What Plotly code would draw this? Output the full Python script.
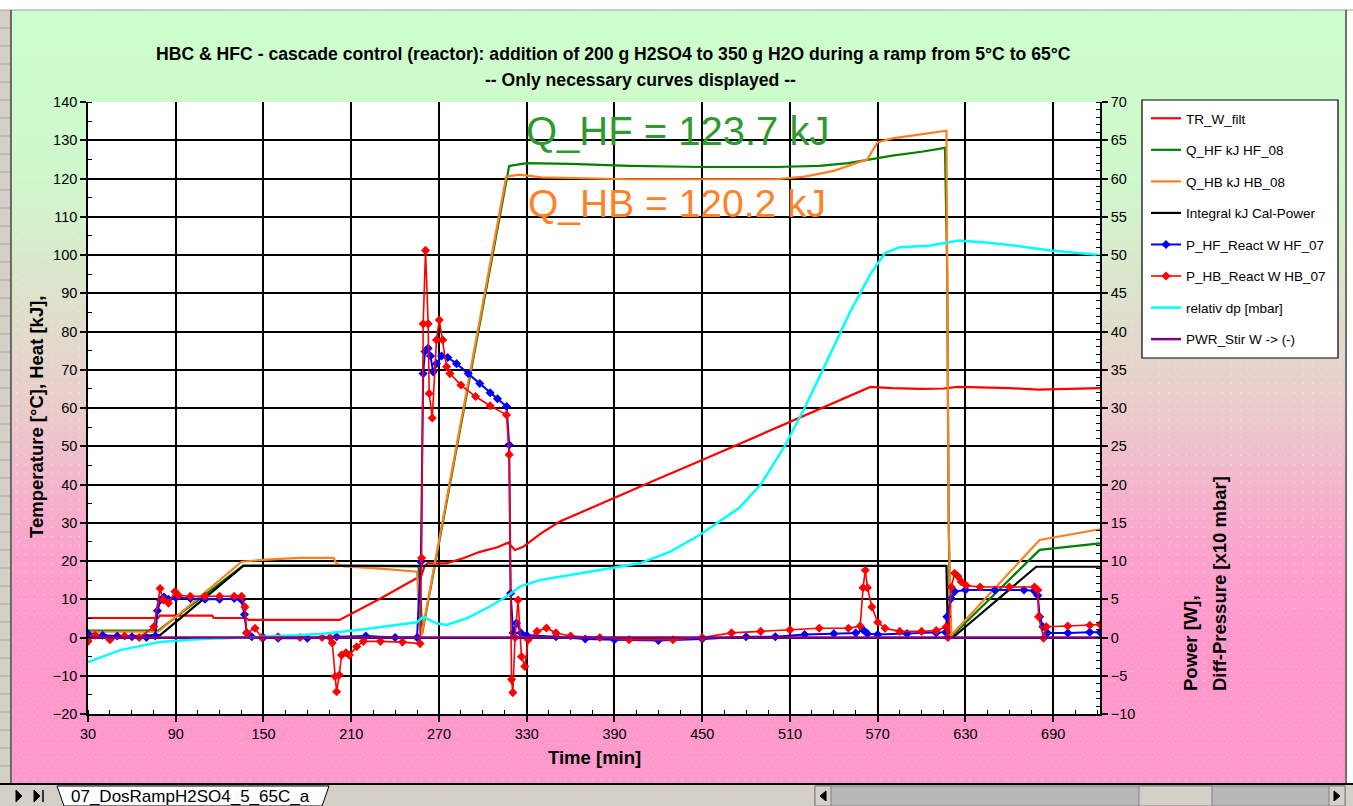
import base64
import plotly.graph_objects as go

# ---------------- data ----------------
# TR_W_filt  [°C]  (left axis)
t_tr = [30, 78, 79, 115, 116, 138, 140, 202, 230, 255, 258, 260, 262, 275, 286.6, 298, 310,
        317.3, 321.9, 327.6, 340, 352.6, 390, 420, 450, 480, 510, 540, 565, 580, 600, 615,
        625, 640, 660, 680, 700, 722]
v_tr = [5.1, 5.1, 5.7, 5.7, 5.1, 5.1, 4.6, 4.6, 10.2, 15.5, 16.2, 18.5, 19.4, 19.4, 20.7, 22.4, 23.6,
        24.8, 22.9, 23.7, 27.3, 30.3, 36.6, 41.5, 46.4, 51.4, 56.5, 61.5, 65.5, 65.2, 65.0, 65.1,
        65.5, 65.4, 65.2, 64.8, 65.0, 65.2]

# Q_HF kJ HF_08  (left axis)
t_qhf = [30, 78, 136, 200, 256, 257.5, 258.5, 318, 330, 360, 400, 450, 500, 530, 550, 565, 580,
         600, 616, 617.5, 618.5, 619.5, 621.4, 680.7, 700, 722]
v_qhf = [1.8, 1.8, 18.8, 18.8, 18.6, 10, 1.0, 123.3, 124, 123.8, 123.3, 123, 123, 123.3, 124, 125, 126,
         127, 128, 96, 32, 1, 0.6, 22.9, 23.7, 24.6]

# Q_HB kJ HB_08  (left axis)
t_qhb = [30, 78, 135, 150, 165, 175, 198, 200, 205, 230, 255, 256.5, 258, 316, 325, 340, 400, 450,
         500, 520, 540, 555, 563, 566, 570, 580, 600, 617, 618.5, 620.3, 680.7, 700, 722]
v_qhb = [1.5, 1.5, 19.8, 20.3, 20.6, 20.8, 20.8, 19.3, 18.6, 18.0, 17.2, 5, 0.5, 120.5, 121, 120.3, 119.8, 119.8,
         119.8, 120.5, 122, 124, 125, 127, 129.5, 130.5, 131.5, 132.5, 30, 0.6, 25.5, 26.8, 28.3]

# Integral kJ Cal-Power  (left axis)
t_int = [30, 79.3, 136.2, 617, 618, 621.4, 678.4, 722]
v_int = [0, 0.6, 18.7, 18.7, 0, 0, 18.5, 18.5]

# P_HF_React W HF_07  (right axis, W)
t_phf = [30, 40, 50, 60, 70, 76, 77.5, 79.5, 82, 85,
         90, 100, 110, 120, 130, 135, 137, 138.5, 142, 150,
         160, 180, 200, 220, 240, 255, 257.6, 259.2, 260.4, 262.6,
         264.2, 266, 268.3, 271.8, 276, 282, 290, 297.9, 305, 310,
         316.2, 318, 319, 320.7, 323, 326, 330, 350, 370, 390,
         420, 450, 480, 500, 520, 540, 555, 560, 563, 570,
         590, 610, 616.5, 617.3, 620.3, 622.6, 630, 650, 670, 677,
         679.5, 680.7, 683, 686, 700, 715, 722]
v_phf = [0.5, 0.3, 0.2, 0.1, 0.0, 0.2, 3.5, 4.9, 5.3, 5.0,
         5.2, 5.1, 5.0, 5.0, 5.1, 4.9, 3.0, 0.6, 0.1, 0.0,
         -0.1, -0.1, 0.1, 0.2, 0.0, 0.0, 9.9, 34.5, 37.4, 37.8,
         36.8, 34.7, 35.8, 36.8, 36.6, 35.8, 34.5, 33.2, 32.0, 31.2,
         30.2, 25.2, 5.8, 0.6, 1.9, 0.6, 0.3, 0.1, -0.2, -0.3,
         -0.4, -0.2, 0.1, 0.1, 0.4, 0.5, 0.6, 1.0, 0.5, 0.4,
         0.5, 0.6, 0.7, 2.7, 5.1, 6.0, 6.2, 6.2, 6.2, 6.1,
         5.5, 2.7, 1.4, 0.6, 0.6, 0.7, 0.7]

# P_HB_React W HB_07  (right axis, W)
t_phb = [30, 35, 45, 55, 65, 75, 79.3, 81.5, 85, 89.5,
         92, 100, 110, 120, 130, 135, 137.3, 138.5, 144.2, 148.7,
         160, 175, 190, 195.4, 197, 198.9, 200, 201.8, 203.4, 206.4,
         208.7, 213.7, 218.3, 230, 245, 257, 258.1, 259.2, 260.8, 262.6,
         263.3, 265.4, 268.3, 270.2, 272.5, 275.2, 277.5, 285, 295, 305,
         316.2, 318, 319.6, 320.5, 322, 324.1, 326.4, 328.7, 331, 337,
         343.5, 350, 360, 380, 400, 430, 450, 470, 490, 510,
         530, 550, 558, 560, 561.5, 563, 566, 570, 575, 585,
         600, 610, 616.8, 618, 620.3, 622.6, 624.8, 627.1, 630.5, 640,
         660, 677.2, 679.5, 680, 683.4, 685.3, 700, 715, 722]
v_phb = [-0.5, 0.3, -0.3, 0.2, 0.0, 1.4, 6.4, 4.9, 4.5, 6.0,
         5.5, 5.4, 5.4, 5.4, 5.4, 5.4, 4.0, 0.6, 1.2, 0.0,
         0.1, 0.0, 0.0, 0.0, -0.7, -5.1, -7.1, -4.9, -2.3, -2.0,
         -2.3, -1.2, -0.5, -0.5, -0.6, -0.8, 10.4, 41.0, 50.6, 41.0,
         31.9, 28.7, 38.9, 41.5, 38.9, 35.4, 34.5, 33.0, 31.5, 30.3,
         29.1, 23.9, -5.5, -7.2, 0.0, 4.9, -2.5, -3.8, -0.3, 0.8,
         1.25, 0.6, 0.2, 0.0, -0.3, -0.3, 0.0, 0.6, 0.8, 1.0,
         1.2, 1.2, 1.5, 6.5, 8.8, 6.5, 4.0, 2.0, 1.2, 0.8,
         0.8, 0.9, 1.4, 0.0, 6.6, 8.4, 8.0, 7.3, 6.8, 6.6,
         6.6, 6.6, 6.2, 2.7, -0.1, 1.4, 1.5, 1.6, 1.7]

# relativ dp [mbar]  (right axis, x10 mbar)
t_dp = [30, 52, 79, 107, 148, 189, 216, 243, 255, 259.2,
        268.3, 275.2, 288.9, 304.8, 316.2, 325.3, 339, 352.6, 390.2, 407.3,
        427.8, 448.3, 475.6, 490, 506.4, 520, 530, 540, 551, 565,
        575, 585, 605, 625.6, 646, 667, 688, 722]
v_dp = [-3.2, -1.65, -0.6, -0.2, 0.05, 0.45, 1.0, 1.65, 2.0, 2.7,
        1.85, 1.65, 2.5, 4.05, 5.35, 6.65, 7.5, 7.95, 9.15, 9.7,
        11.2, 13.4, 17.0, 20.0, 25.0, 30.0, 34.0, 38.0, 42.5, 47.5,
        50.25, 51.0, 51.2, 51.9, 51.6, 51.15, 50.6, 50.0]

# PWR_Stir W -> (-)  (right axis)
t_stir = [30, 722]
v_stir = [0, 0]

x_range = [30, 722]
x_ticks = [30, 90, 150, 210, 270, 330, 390, 450, 510, 570, 630, 690]
y_range = [-20, 140]
y2_range = [-10, 70]

title1 = "HBC & HFC - cascade control (reactor): addition of 200 g H2SO4 to 350 g H2O during a ramp from 5°C to 65°C"
title2 = "-- Only necessary curves displayed --"
label_qhf = "Q_HF = 123.7 kJ"
label_qhb = "Q_HB = 120.2 kJ"
sheet_name = "07_DosRampH2SO4_5_65C_a"

# ---------------- layout helpers ----------------
W, H = 1353, 806
PL, PR, PT, PB = 88, 1100, 102, 714
FONT = "Liberation Sans, Arial, sans-serif"


def px(x):
    return (x - PL) / (PR - PL)


def py(y):
    return (PB - y) / (PB - PT)


def rect(x0, y0, x1, y1, fill, line="rgba(0,0,0,0)", lw=0, layer="below"):
    return dict(type="rect", xref="paper", yref="paper", x0=px(x0), x1=px(x1), y0=py(y0), y1=py(y1),
                fillcolor=fill, line=dict(color=line, width=lw), layer=layer)


def hline(x0, x1, y, color, lw=1, layer="above"):
    return dict(type="line", xref="paper", yref="paper", x0=px(x0), x1=px(x1), y0=py(y), y1=py(y),
                line=dict(color=color, width=lw), layer=layer)


def vline(x, y0, y1, color, lw=1, layer="above"):
    return dict(type="line", xref="paper", yref="paper", x0=px(x), x1=px(x), y0=py(y0), y1=py(y1),
                line=dict(color=color, width=lw), layer=layer)


def poly(points, fill, line="#000000", lw=1, layer="above"):
    path = "M " + " L ".join(f"{px(a)},{py(b)}" for a, b in points) + " Z"
    return dict(type="path", xref="paper", yref="paper", path=path, fillcolor=fill,
                line=dict(color=line, width=lw), layer=layer)


# gradient background (Excel chart area)
cw, ch = 1333, 773
svg = f'''<svg xmlns="http://www.w3.org/2000/svg" width="{cw}" height="{ch}" viewBox="0 0 {cw} {ch}" preserveAspectRatio="none">
<defs><linearGradient id="g" x1="0" y1="0" x2="0" y2="1">
<stop offset="0" stop-color="#ccffcc"/><stop offset="0.22" stop-color="#cff8cc"/>
<stop offset="0.5" stop-color="#e9cfcb"/><stop offset="0.7" stop-color="#fba3cc"/>
<stop offset="0.8" stop-color="#ff99cc"/><stop offset="1" stop-color="#ff99cc"/></linearGradient>
<pattern id="p" width="9" height="9" patternUnits="userSpaceOnUse"><rect x="4" y="4" width="1" height="1" fill="#ffffff" fill-opacity="0.6"/></pattern></defs>
<rect width="{cw}" height="{ch}" fill="url(#g)"/><rect width="{cw}" height="{ch}" fill="url(#p)"/></svg>'''
bg_src = "data:image/svg+xml;base64," + base64.b64encode(svg.encode()).decode()

fig = go.Figure()

line_traces = [
    (t_tr, v_tr, "TR_W_filt", "#ff0000", "y", 2.2),
    (t_qhf, v_qhf, "Q_HF kJ HF_08", "#008000", "y", 2.2),
    (t_qhb, v_qhb, "Q_HB kJ HB_08", "#ff7f1e", "y", 2.2),
    (t_int, v_int, "Integral kJ Cal-Power", "#000000", "y", 2.2),
]
for i, (tx, vy, nm, col, ax, lw) in enumerate(line_traces):
    fig.add_trace(go.Scatter(x=tx, y=vy, name=nm, mode="lines", yaxis=ax,
                             line=dict(color=col, width=lw), legendgroup=str(i)))

fig.add_trace(go.Scatter(x=t_phf, y=v_phf, name="P_HF_React W HF_07", mode="lines+markers", yaxis="y2",
                         line=dict(color="#0000ff", width=2),
                         marker=dict(symbol="diamond", size=7, color="#0000ff"), legendgroup="4"))
fig.add_trace(go.Scatter(x=t_phb, y=v_phb, name="P_HB_React W HB_07", mode="lines+markers", yaxis="y2",
                         line=dict(color="#ff0000", width=1.6),
                         marker=dict(symbol="diamond", size=7, color="#ff0000"), legendgroup="5"))
fig.add_trace(go.Scatter(x=t_dp, y=v_dp, name="relativ dp [mbar]", mode="lines", yaxis="y2",
                         line=dict(color="#00ffff", width=2.5), legendgroup="6"))
fig.add_trace(go.Scatter(x=t_stir, y=v_stir, name="PWR_Stir W -> (-)", mode="lines", yaxis="y2",
                         line=dict(color="#800080", width=2.5), legendgroup="7"))

axis_common = dict(showline=True, linecolor="#000000", linewidth=1.6, zeroline=False,
                   tickfont=dict(family=FONT, size=14.5, color="#000000"),
                   tickcolor="#000000", tickwidth=1.5, ticks="outside", ticklen=6)

shapes = [
    # chart-area frame pieces (Excel window)
    rect(0, 0, W, 10, "#ffffff"),
    hline(0, W, 10, "#a0a0a0", 1),
    rect(0, 10, 11, 783, "#d4d0c8"),
    vline(11, 10, 783, "#404040", 1.5),
    rect(1345, 0, W, 783, "#ffffff"),
    vline(1346, 10, 783, "#404040", 1.5),
    # plot area white
    rect(PL, PT, PR, PB, "#ffffff"),
    # legend box
    rect(1142, 100, 1338, 358, "#ffffff", "#000000", 1.2),
    # sheet-tab bar
    rect(0, 783, W, 806, "#d4d0c8", layer="above"),
    hline(0, W, 784, "#000000", 2),
    poly([(57, 786), (329, 786), (322, 806), (64, 806)], "#ffffff", "#000000", 1),
    poly([(16, 790), (16, 802), (22, 796)], "#000000", "#000000", 1),
    poly([(34, 790), (34, 802), (40, 796)], "#000000", "#000000", 1),
    vline(43, 790, 802, "#000000", 1.5),
    rect(815, 786, 1345, 806, "#b8b8b8", "#808080", 1, layer="above"),
    rect(815, 786, 831, 806, "#d4d0c8", "#808080", 1, layer="above"),
    rect(1139, 786, 1212, 806, "#d4d0c8", "#808080", 1, layer="above"),
    rect(1329, 786, 1345, 806, "#d4d0c8", "#808080", 1, layer="above"),
    poly([(826, 791), (826, 801), (820, 796)], "#000000", "#000000", 1),
    poly([(1334, 791), (1334, 801), (1340, 796)], "#000000", "#000000", 1),
]
for yy in range(28, 783, 18):
    shapes.append(hline(0, 10, yy, "#a8a49c", 1))

AX_T = 18.5
annotations = [
    dict(text="<b>" + title1 + "</b>", x=px(613), y=py(54), xref="paper", yref="paper", showarrow=False,
         font=dict(family=FONT, size=17.6, color="#000000"), xanchor="center", yanchor="middle"),
    dict(text="<b>" + title2 + "</b>", x=px(640), y=py(80), xref="paper", yref="paper", showarrow=False,
         font=dict(family=FONT, size=17.6, color="#000000"), xanchor="center", yanchor="middle"),
    dict(text=label_qhf, x=px(524), y=py(131), xref="paper", yref="paper", showarrow=False,
         font=dict(family=FONT, size=40, color="#2e9a2e"), xanchor="left", yanchor="middle"),
    dict(text=label_qhb, x=px(526), y=py(204), xref="paper", yref="paper", showarrow=False,
         font=dict(family=FONT, size=39, color="#ff8128"), xanchor="left", yanchor="middle"),
    dict(text="<b>Temperature [°C], Heat [kJ],</b>", x=px(37), y=py(417), xref="paper", yref="paper",
         showarrow=False, textangle=-90, font=dict(family=FONT, size=AX_T, color="#000000"),
         xanchor="center", yanchor="middle"),
    dict(text="<b>Power [W],</b>", x=px(1190), y=py(643), xref="paper", yref="paper",
         showarrow=False, textangle=-90, font=dict(family=FONT, size=AX_T, color="#000000"),
         xanchor="center", yanchor="middle"),
    dict(text="<b>Diff-Pressure [x10 mbar]</b>", x=px(1219), y=py(584), xref="paper", yref="paper",
         showarrow=False, textangle=-90, font=dict(family=FONT, size=AX_T, color="#000000"),
         xanchor="center", yanchor="middle"),
    dict(text="<b>Time [min]</b>", x=px(594), y=py(757), xref="paper", yref="paper", showarrow=False,
         font=dict(family=FONT, size=AX_T, color="#000000"), xanchor="center", yanchor="middle"),
    dict(text=sheet_name, x=px(69), y=py(796), xref="paper", yref="paper", showarrow=False,
         font=dict(family=FONT, size=17, color="#000000"), xanchor="left", yanchor="middle"),
]

fig.update_layout(
    width=W, height=H, autosize=False,
    margin=dict(l=PL, r=W - PR, t=PT, b=H - PB, pad=0),
    paper_bgcolor="#ffffff", plot_bgcolor="rgba(0,0,0,0)",
    font=dict(family=FONT, color="#000000"),
    showlegend=True,
    legend=dict(x=px(1146), y=py(103), xanchor="left", yanchor="top",
                bgcolor="rgba(0,0,0,0)", borderwidth=0,
                font=dict(family=FONT, size=13.5, color="#000000"),
                traceorder="grouped", tracegroupgap=11, itemwidth=30),
    xaxis=dict(range=x_range, tickmode="array", tickvals=x_ticks, showgrid=True,
               gridcolor="#000000", gridwidth=1.8,
               minor=dict(dtick=15, tick0=30, ticks="inside", ticklen=4, tickcolor="#000000",
                          tickwidth=1, showgrid=False),
               **axis_common),
    yaxis=dict(range=y_range, dtick=10, tick0=0, showgrid=True, gridcolor="#000000", gridwidth=1.8,
               minor=dict(dtick=5, ticks="inside", ticklen=4, tickcolor="#000000", tickwidth=1,
                          showgrid=False),
               **axis_common),
    yaxis2=dict(range=y2_range, dtick=5, tick0=0, overlaying="y", side="right", showgrid=False,
                minor=dict(dtick=1, ticks="inside", ticklen=4, tickcolor="#000000", tickwidth=1,
                           showgrid=False),
                **axis_common),
    images=[dict(source=bg_src, xref="paper", yref="paper", x=px(12), y=py(10),
                 sizex=(1345 - 12) / (PR - PL), sizey=(783 - 10) / (PB - PT),
                 xanchor="left", yanchor="top", sizing="stretch", layer="below")],
    shapes=shapes,
    annotations=annotations,
)

fig.write_html("out.html", config={"displayModeBar": False})
